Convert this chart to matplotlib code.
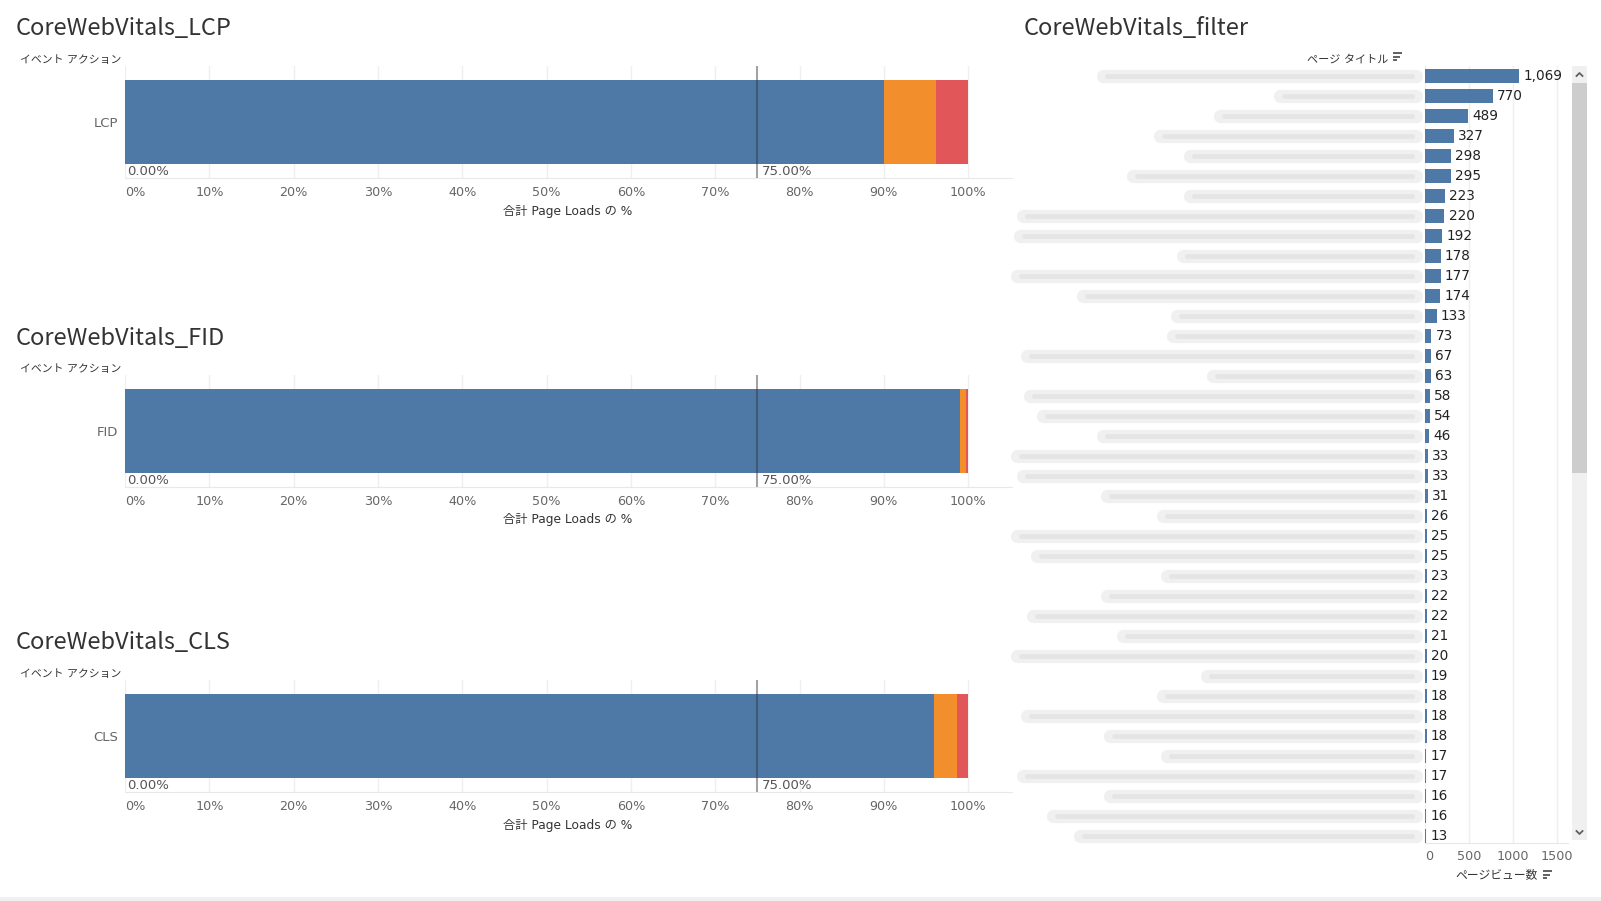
import numpy as np
import matplotlib
matplotlib.use('Agg')
import matplotlib.pyplot as plt
import matplotlib.transforms as mtransforms
from matplotlib.patches import Rectangle

plt.rcParams['font.family'] = ['DejaVu Sans', 'Noto Sans CJK JP']
TITLE_FONT = ['Noto Sans CJK JP', 'DejaVu Sans']

# --- data ---
metrics = ['LCP', 'FID', 'CLS']
good_pct = [90.0, 99.0, 96.0]
ni_pct = [6.2, 0.8, 2.7]
poor_pct = [3.8, 0.2, 1.3]
ref_value = 75.0
pct_ticks = list(range(0, 101, 10))

page_views = [1069, 770, 489, 327, 298, 295, 223, 220, 192, 178, 177, 174, 133,
              73, 67, 63, 58, 54, 46, 33, 33, 31, 26, 25, 25, 23, 22, 22, 21,
              20, 19, 18, 18, 18, 17, 17, 16, 16, 13]
view_ticks = [0, 500, 1000, 1500]

# left edge (pixels) of the blurred-out page titles
blur_left = [1103, 1280, 1220, 1160, 1190, 1133, 1190, 1023, 1020, 1183, 1017,
             1083, 1177, 1173, 1027, 1213, 1030, 1043, 1103, 1017, 1023, 1107,
             1163, 1017, 1037, 1167, 1107, 1033, 1123, 1017, 1207, 1163, 1027,
             1110, 1167, 1023, 1110, 1053, 1080]

BLUE, ORANGE, RED = '#4e79a7', '#f28e2b', '#e15759'
W, H = 1601, 901

fig = plt.figure(figsize=(W / 100, H / 100), dpi=100)

def px_axes(x0, y0, x1, y1):
    a = fig.add_axes([x0 / W, 1 - y1 / H, (x1 - x0) / W, (y1 - y0) / H])
    a.set_facecolor('none')
    return a

# overlay in pixel coordinates for titles and widgets
ov = fig.add_axes([0, 0, 1, 1], zorder=-1)
ov.set_xlim(0, W)
ov.set_ylim(H, 0)
ov.axis('off')

def sort_icon(x, y):
    for k, ln in enumerate([9, 6.5, 4]):
        ov.plot([x, x + ln], [y - 4 + 3.5 * k] * 2, color='#555', lw=1.3,
                solid_capstyle='butt')

# --- left: stacked 100% bars ---
tops = [66, 375, 680]
for i, m in enumerate(metrics):
    top = tops[i]
    ax = px_axes(125, top, 1012, top + 112)
    ax.set_xlim(0, 105.2)
    ax.set_ylim(-0.5, 0.5)
    ax.barh(0, good_pct[i], height=0.75, color=BLUE, zorder=2)
    ax.barh(0, ni_pct[i], left=good_pct[i], height=0.75, color=ORANGE, zorder=2)
    ax.barh(0, poor_pct[i], left=good_pct[i] + ni_pct[i], height=0.75,
            color=RED, zorder=2)
    ax.axvline(ref_value, color='#333333', alpha=0.45, lw=1.5, zorder=3)
    ax.text(0.3, -0.44, '0.00%', fontsize=9.5, color='#555', va='center')
    ax.text(ref_value + 0.5, -0.44, f'{ref_value:.2f}%', fontsize=9.5,
            color='#555', va='center')

    ax.set_xticks(pct_ticks)
    ax.set_xticklabels([f'{t}%' for t in pct_ticks])
    ax.get_xticklabels()[0].set_ha('left')
    ax.grid(axis='x', color='#efefef', lw=1)
    ax.set_axisbelow(True)
    ax.set_yticks([0])
    ax.set_yticklabels([m])
    ax.tick_params(axis='x', length=0, labelsize=9.2, labelcolor='#666', pad=6)
    ax.tick_params(axis='y', length=0, labelsize=9.5, labelcolor='#666', pad=5)
    for s in ['top', 'left', 'right']:
        ax.spines[s].set_visible(False)
    ax.spines['bottom'].set_color('#e8e8e8')

    ov.text(16, top - 37, f'CoreWebVitals_{m}', fontsize=17, color='#333',
            va='center', family=TITLE_FONT)
    ov.text(20, top - 6, 'イベント アクション', fontsize=7.8, color='#333',
            va='center')
    ov.text(568, top + 145, '合計 Page Loads の %', fontsize=8.8, color='#333',
            va='center', ha='center')

# --- right: page views per title ---
axr = px_axes(1425, 65.5, 1568, 843)
rows = np.arange(len(page_views))
axr.barh(rows, page_views, height=0.7, color=BLUE, zorder=2)
for r, v in zip(rows, page_views):
    axr.annotate(f'{v:,}', (v, r), xytext=(3, 0), textcoords='offset points',
                 ha='left', va='center', fontsize=9.8, color='#222',
                 annotation_clip=False)
axr.set_xlim(0, 1625)
axr.set_ylim(len(page_views) - 0.625, -0.5)
axr.set_xticks(view_ticks)
axr.set_xticklabels([str(t) for t in view_ticks])
axr.get_xticklabels()[0].set_ha('left')
axr.set_yticks([])
axr.grid(axis='x', color='#efefef', lw=1)
axr.set_axisbelow(True)
axr.tick_params(axis='x', length=0, labelsize=9.2, labelcolor='#666', pad=5)
for s in ['top', 'left', 'right']:
    axr.spines[s].set_visible(False)
axr.spines['bottom'].set_color('#e8e8e8')

# blurred page titles
blend = mtransforms.blended_transform_factory(ov.transData, axr.transData)
for r, xl in zip(rows, blur_left):
    axr.plot([xl, 1416], [r, r], transform=blend, clip_on=False, color='#f0f0f0',
             lw=9.5, solid_capstyle='round', zorder=1)
    axr.plot([xl + 4, 1412], [r, r], transform=blend, clip_on=False,
             color='#e3e3e3', lw=3.5, alpha=0.8, solid_capstyle='round', zorder=1)

ov.text(1024, 28, 'CoreWebVitals_filter', fontsize=17, color='#333', va='center',
        family=TITLE_FONT)
ov.text(1388, 60, 'ページ タイトル', fontsize=8, color='#333', va='center', ha='right')
sort_icon(1393, 57)
ov.text(1497, 875, 'ページビュー数', fontsize=8.5, color='#333', va='center',
        ha='center')
sort_icon(1543, 875)

# scrollbar
ov.add_patch(Rectangle((1572, 66), 15, 774, color='#f0f0f0', lw=0))
ov.add_patch(Rectangle((1572, 83), 15, 390, color='#cdcdcd', lw=0))
ov.plot([1576.5, 1579.5, 1582.5], [76, 73, 76], color='#606060', lw=1.3)
ov.plot([1576.5, 1579.5, 1582.5], [831, 834, 831], color='#606060', lw=1.3)

# bottom strip
ov.add_patch(Rectangle((0, 897), W, 4, color='#f0f0f0', lw=0))

fig.savefig('out.png', dpi=100)
